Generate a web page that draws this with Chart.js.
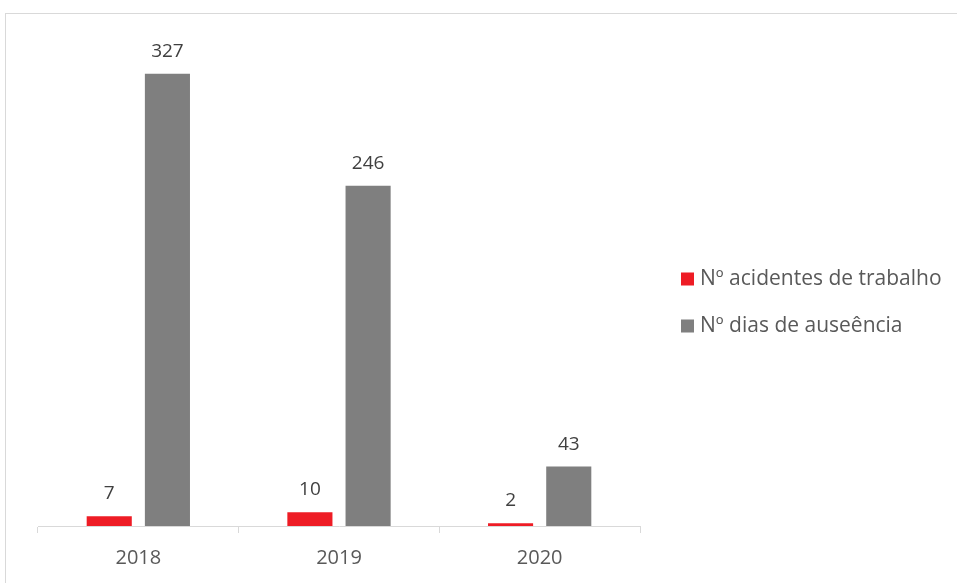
<!DOCTYPE html>
<html>
<head>
<meta charset="utf-8">
<script src="https://cdn.jsdelivr.net/npm/chart.js@4.4.1/dist/chart.umd.min.js"></script>
<style>
    html, body {
        margin: 0;
        padding: 0;
        background: #fff;
    }
    #frame {
        position: absolute;
        left: 5px;
        top: 13px;
        width: 1000px;
        height: 1000px;
        border: 1px solid #d9d9d9;
    }
    #wrap {
        position: absolute;
        left: 0;
        top: 0;
        width: 957px;
        height: 583px;
    }
</style>
</head>
<body>
<div id="frame"></div>
<div id="wrap"><canvas id="accidentsChart"></canvas></div>
<script>
const years = ["2018", "2019", "2020"];
const accidents = [7, 10, 2];
const absenceDays = [327, 246, 43];
const seriesNames = ["Nº acidentes de trabalho", "Nº dias de auseência"];

const FONT = "'Open Sans', Lato, sans-serif";

// value labels above each bar
const barLabels = {
    id: "barLabels",
    afterDatasetsDraw(chart) {
        const { ctx } = chart;
        ctx.save();
        ctx.font = `19px ${FONT}`;
        ctx.fillStyle = "#404040";
        ctx.textAlign = "center";
        ctx.textBaseline = "alphabetic";
        chart.data.datasets.forEach((ds, i) => {
            chart.getDatasetMeta(i).data.forEach((bar, j) => {
                ctx.fillText(ds.data[j], bar.x, bar.y - 17);
            });
        });
        ctx.restore();
    }
};

// legend on the right, laid out like the original
const sideLegend = {
    id: "sideLegend",
    afterDraw(chart) {
        const { ctx } = chart;
        ctx.save();
        ctx.font = `21px ${FONT}`;
        ctx.textAlign = "left";
        ctx.textBaseline = "middle";
        chart.data.datasets.forEach((ds, i) => {
            const y = 279 + i * 47;
            ctx.fillStyle = ds.backgroundColor;
            ctx.fillRect(681, y - 6.5, 13, 13);
            ctx.fillStyle = "#595959";
            ctx.fillText(ds.label, 700, y);
        });
        ctx.restore();
    }
};

new Chart(document.getElementById("accidentsChart"), {
    type: "bar",
    data: {
        labels: years,
        datasets: [
            {
                label: seriesNames[0],
                data: accidents,
                backgroundColor: "#ee1c25"
            },
            {
                label: seriesNames[1],
                data: absenceDays,
                backgroundColor: "#7f7f7f"
            }
        ]
    },
    options: {
        responsive: true,
        maintainAspectRatio: false,
        animation: false,
        categoryPercentage: 0.58,
        barPercentage: 0.775,
        layout: {
            padding: { top: 42, left: 38, right: 317, bottom: 0 }
        },
        plugins: {
            legend: { display: false },
            tooltip: { enabled: false }
        },
        scales: {
            x: {
                grid: {
                    drawOnChartArea: false,
                    color: "#d9d9d9",
                    tickLength: 7
                },
                border: { color: "#d9d9d9" },
                ticks: {
                    color: "#595959",
                    font: { family: FONT, size: 20 },
                    padding: 13
                }
            },
            y: {
                display: false,
                min: 0,
                max: 350
            }
        }
    },
    plugins: [barLabels, sideLegend]
});
</script>
</body>
</html>
